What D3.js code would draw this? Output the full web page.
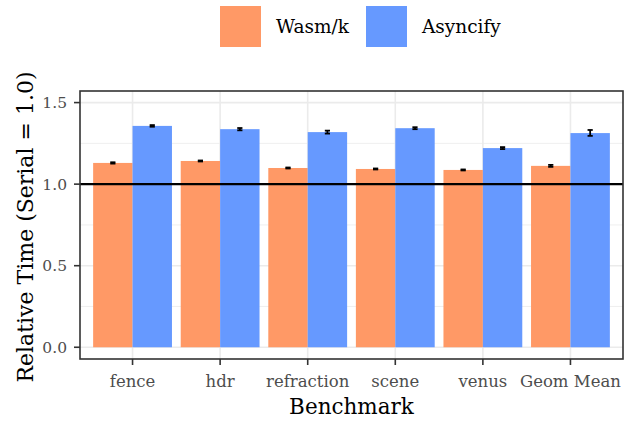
<!DOCTYPE html>
<html>
<head>
<meta charset="utf-8">
<script src="https://cdn.jsdelivr.net/npm/d3@7"></script>
<style>
  body { margin: 0; background: white; }
  text { font-family: "DejaVu Serif", serif; }
</style>
</head>
<body>
<div id="root"></div>
<script>
const benchmarks = ["fence", "hdr", "refraction", "scene", "venus", "Geom Mean"];
const seriesNames = ["Wasm/k", "Asyncify"];
const wasmk = [1.130, 1.142, 1.099, 1.093, 1.087, 1.112];
const wasmkLo = [1.126, 1.139, 1.096, 1.090, 1.084, 1.106];
const wasmkHi = [1.134, 1.145, 1.102, 1.096, 1.090, 1.118];
const asyncify = [1.357, 1.337, 1.319, 1.343, 1.221, 1.313];
const asyncifyLo = [1.352, 1.330, 1.310, 1.337, 1.215, 1.296];
const asyncifyHi = [1.362, 1.344, 1.328, 1.349, 1.227, 1.332];
const yTicks = [0.0, 0.5, 1.0, 1.5];
const yMinor = [0.25, 0.75, 1.25];

const w = 626;
const h = 421;
const pLeft = 80, pRight = 623, pTop = 91, pBottom = 359;
const colors = ["#FF9966", "#6699FF"];

const rows = [];
benchmarks.forEach((b, i) => {
  rows.push({ b: b, s: seriesNames[0], v: wasmk[i], lo: wasmkLo[i], hi: wasmkHi[i] });
  rows.push({ b: b, s: seriesNames[1], v: asyncify[i], lo: asyncifyLo[i], hi: asyncifyHi[i] });
});

const svg = d3.select("#root")
  .append("svg")
  .attr("width", w)
  .attr("height", h);

// ggplot style: 0.6 expansion each side, dodged bars 0.9 wide
const xScale = d3.scalePoint()
  .domain(benchmarks)
  .range([pLeft, pRight])
  .padding(0.6);
const step = xScale.step();
const barW = step * 0.9 / 2;
const xSub = d3.scaleBand().domain(seriesNames).range([-barW, barW]);

const yScale = d3.scaleLinear()
  .domain([-0.072, 1.571])
  .range([pBottom, pTop]);

// grid
svg.append("g").selectAll("line")
  .data(yMinor)
  .enter().append("line")
  .attr("x1", pLeft).attr("x2", pRight)
  .attr("y1", d => yScale(d)).attr("y2", d => yScale(d))
  .attr("stroke", "#EBEBEB").attr("stroke-width", 0.8);

svg.append("g").selectAll("line")
  .data(yTicks)
  .enter().append("line")
  .attr("x1", pLeft).attr("x2", pRight)
  .attr("y1", d => yScale(d)).attr("y2", d => yScale(d))
  .attr("stroke", "#EBEBEB").attr("stroke-width", 1.6);

svg.append("g").selectAll("line")
  .data(benchmarks)
  .enter().append("line")
  .attr("x1", d => xScale(d)).attr("x2", d => xScale(d))
  .attr("y1", pTop).attr("y2", pBottom)
  .attr("stroke", "#EBEBEB").attr("stroke-width", 1.6);

// bars
svg.append("g").selectAll("rect")
  .data(rows)
  .enter().append("rect")
  .attr("x", d => xScale(d.b) + xSub(d.s))
  .attr("y", d => yScale(d.v))
  .attr("width", xSub.bandwidth())
  .attr("height", d => yScale(0) - yScale(d.v))
  .attr("fill", d => colors[seriesNames.indexOf(d.s)]);

// reference line at 1.0
svg.append("line")
  .attr("x1", pLeft).attr("x2", pRight)
  .attr("y1", yScale(1)).attr("y2", yScale(1))
  .attr("stroke", "black").attr("stroke-width", 2.2);

// error bars
const capW = 2.6;
const eb = svg.append("g").attr("stroke", "black").attr("stroke-width", 1.8);
rows.forEach(d => {
  const cx = xScale(d.b) + xSub(d.s) + xSub.bandwidth() / 2;
  eb.append("line").attr("x1", cx).attr("x2", cx)
    .attr("y1", yScale(d.lo)).attr("y2", yScale(d.hi));
  eb.append("line").attr("x1", cx - capW).attr("x2", cx + capW)
    .attr("y1", yScale(d.lo)).attr("y2", yScale(d.lo));
  eb.append("line").attr("x1", cx - capW).attr("x2", cx + capW)
    .attr("y1", yScale(d.hi)).attr("y2", yScale(d.hi));
});

// panel border
svg.append("rect")
  .attr("x", pLeft).attr("y", pTop)
  .attr("width", pRight - pLeft).attr("height", pBottom - pTop)
  .attr("fill", "none").attr("stroke", "#333333").attr("stroke-width", 1.6);

// y axis
const yAxis = svg.append("g");
yAxis.selectAll("line")
  .data(yTicks).enter().append("line")
  .attr("x1", pLeft - 6).attr("x2", pLeft)
  .attr("y1", d => yScale(d)).attr("y2", d => yScale(d))
  .attr("stroke", "#333333").attr("stroke-width", 1.6);
yAxis.selectAll("text")
  .data(yTicks).enter().append("text")
  .attr("x", pLeft - 13)
  .attr("y", d => yScale(d))
  .attr("dy", "0.35em")
  .attr("text-anchor", "end")
  .attr("fill", "#4D4D4D")
  .style("font-size", "15.5px")
  .text(d => d.toFixed(1));

// x axis
const xAxis = svg.append("g");
xAxis.selectAll("line")
  .data(benchmarks).enter().append("line")
  .attr("x1", d => xScale(d)).attr("x2", d => xScale(d))
  .attr("y1", pBottom).attr("y2", pBottom + 6)
  .attr("stroke", "#333333").attr("stroke-width", 1.6);
xAxis.selectAll("text")
  .data(benchmarks).enter().append("text")
  .attr("x", d => xScale(d))
  .attr("y", 387)
  .attr("text-anchor", "middle")
  .attr("fill", "#4D4D4D")
  .style("font-size", "16.5px")
  .text(d => d);

// axis titles
svg.append("text")
  .attr("x", (pLeft + pRight) / 2)
  .attr("y", 414)
  .attr("text-anchor", "middle")
  .style("font-size", "21.5px")
  .text("Benchmark");

svg.append("text")
  .attr("transform", `translate(${33}, ${227}) rotate(-90)`)
  .attr("text-anchor", "middle")
  .style("font-size", "22px")
  .text("Relative Time (Serial = 1.0)");

// legend
const legendX = [220, 366];
const legend = svg.append("g");
seriesNames.forEach((s, i) => {
  legend.append("rect")
    .attr("x", legendX[i]).attr("y", 6)
    .attr("width", 41).attr("height", 41)
    .attr("fill", colors[i]);
  legend.append("text")
    .attr("x", legendX[i] + 56)
    .attr("y", 27)
    .attr("dy", "0.35em")
    .style("font-size", "18.5px")
    .text(s);
});
</script>
</body>
</html>
